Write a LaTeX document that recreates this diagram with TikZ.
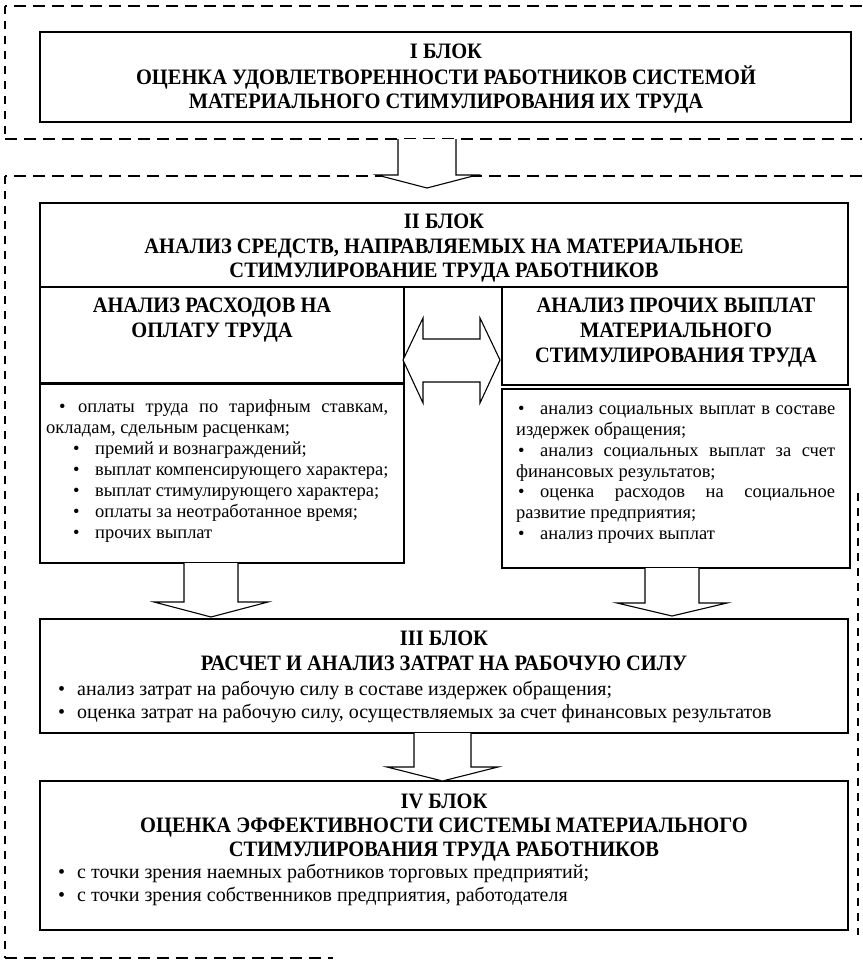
\documentclass[tikz,border=0pt]{standalone}
\usepackage{fontspec}
\setmainfont{Liberation Serif}
\newfontfamily\headfont[FakeStretch=0.93]{Liberation Serif}
\usetikzlibrary{fit}

\newcommand{\bulA}{\makebox[19pt][l]{\textbullet}}
\newcommand{\bulB}{\makebox[22pt][l]{\textbullet}}

\begin{document}
\begin{tikzpicture}
[x=1pt, y=-1pt,
  frameDecorate/.style={line width=2.2pt, dash pattern=on 12pt off 7pt},
  sideDecorate/.style={line width=2.2pt, dash pattern=on 8pt off 7pt},
  blockDecorate/.style={draw, line width=1.3pt, inner sep=0pt, fit={#1}},
  arrowDecorate/.style={line width=1.1pt, line join=miter},
  headDecorate/.style={anchor=base, inner sep=0pt, font=\headfont\bfseries\fontsize{22}{26}\selectfont},
  itemDecorate/.style={anchor=base west, inner sep=0pt, font=\fontsize{18.5}{21}\selectfont},
  pointDecorate/.style={anchor=base west, inner sep=0pt, font=\fontsize{20}{23}\selectfont}]
\useasboundingbox (0,0) rectangle (862,961);

%% dashed frames
\draw[frameDecorate] (862,6) -- (5,6);
\draw[sideDecorate] (5,6) -- (5,139);
\draw[frameDecorate] (5,139) -- (862,139);
\draw[frameDecorate] (862,176) -- (5,176);
\draw[sideDecorate] (5,176) -- (5,958);
\draw[frameDecorate] (5,958) -- (333,958);
\draw[sideDecorate] (858,493) -- (858,935);

%% blocks
\node[blockDecorate={(40,32) (851,122)}] (blockI) {};
\node[blockDecorate={(40,203) (848,287)}] (blockII) {};
\node[blockDecorate={(40,287) (404,383)}] (payHead) {};
\node[blockDecorate={(502,287) (848,385)}] (otherHead) {};
\node[blockDecorate={(40,383) (404,563)}] (payList) {};
\node[blockDecorate={(502,389) (850,568)}] (otherList) {};
\node[blockDecorate={(40,619) (848,733)}] (blockIII) {};
\node[blockDecorate={(40,781) (848,930)}] (blockIV) {};
\draw[line width=2.6pt] (payHead.south west) -- (payHead.south east);

%% block arrows
\foreach \cx/\ya/\yb/\yc/\sw/\hw in {
  427/139/175/188/29/50,
  211/563/602/617/27/57,
  672/568/603/616/27/55,
  442.5/733/767/781/28.5/55.5}
{
  \fill[white] (\cx-\sw,\ya) -- (\cx-\sw,\yb) -- (\cx-\hw,\yb) -- (\cx,\yc)
    -- (\cx+\hw,\yb) -- (\cx+\sw,\yb) -- (\cx+\sw,\ya) -- cycle;
  \draw[arrowDecorate] (\cx-\sw,\ya) -- (\cx-\sw,\yb) -- (\cx-\hw,\yb) -- (\cx,\yc)
    -- (\cx+\hw,\yb) -- (\cx+\sw,\yb) -- (\cx+\sw,\ya);
}
\draw[arrowDecorate, fill=white] (403,360) -- (423,318) -- (423,339) -- (480,339)
  -- (480,318) -- (500,360) -- (480,403) -- (480,382) -- (423,382) -- (423,403) -- cycle;

%% headings
\foreach \name/\x/\y/\txt in {
  tI1/446/58/{I БЛОК},
  tI2/446/84/{ОЦЕНКА УДОВЛЕТВОРЕННОСТИ РАБОТНИКОВ СИСТЕМОЙ},
  tI3/446/108/{МАТЕРИАЛЬНОГО СТИМУЛИРОВАНИЯ ИХ ТРУДА},
  tII1/444/228/{II БЛОК},
  tII2/444/253/{АНАЛИЗ СРЕДСТВ, НАПРАВЛЯЕМЫХ НА МАТЕРИАЛЬНОЕ},
  tII3/444/277/{СТИМУЛИРОВАНИЕ ТРУДА РАБОТНИКОВ},
  tPay1/212/312/{АНАЛИЗ РАСХОДОВ НА},
  tPay2/212/337/{ОПЛАТУ ТРУДА},
  tOth1/676/312/{АНАЛИЗ ПРОЧИХ ВЫПЛАТ},
  tOth2/676/337/{МАТЕРИАЛЬНОГО},
  tOth3/676/362/{СТИМУЛИРОВАНИЯ ТРУДА},
  tIII1/444/645/{III БЛОК},
  tIII2/444/670/{РАСЧЕТ И АНАЛИЗ ЗАТРАТ НА РАБОЧУЮ СИЛУ},
  tIV1/444/808/{IV БЛОК},
  tIV2/444/832/{ОЦЕНКА ЭФФЕКТИВНОСТИ СИСТЕМЫ МАТЕРИАЛЬНОГО},
  tIV3/444/856/{СТИМУЛИРОВАНИЯ ТРУДА РАБОТНИКОВ}}
{
  \node[headDecorate] (\name) at (\x,\y) {\txt};
}

%% list items
\foreach \name/\x/\y/\txt in {
  pay1/59/412/{\makebox[329pt][s]{\bulA оплаты труда по тарифным ставкам,}},
  pay2/46/433/{окладам, сдельным расценкам;},
  pay3/73/454/{\bulB премий и вознаграждений;},
  pay4/73/475/{\bulB выплат компенсирующего характера;},
  pay5/73/496/{\bulB выплат стимулирующего характера;},
  pay6/73/517/{\bulB оплаты за неотработанное время;},
  pay7/73/538/{\bulB прочих выплат},
  oth1/518/414/{\makebox[317pt][s]{\bulB анализ социальных выплат в составе}},
  oth2/516/435/{издержек обращения;},
  oth3/518/456/{\makebox[317pt][s]{\bulB анализ социальных выплат за счет}},
  oth4/516/477/{финансовых результатов;},
  oth5/518/497/{\makebox[317pt][s]{\bulB оценка расходов на социальное}},
  oth6/516/518/{развитие предприятия;},
  oth7/518/539/{\bulB анализ прочих выплат}}
{
  \node[itemDecorate] (\name) at (\x,\y) {\txt};
}
\foreach \name/\y/\txt in {
  lab1/695/{анализ затрат на рабочую силу в составе издержек обращения;},
  lab2/718/{оценка затрат на рабочую силу, осуществляемых за счет финансовых результатов},
  eff1/878/{с точки зрения наемных работников торговых предприятий;},
  eff2/901/{с точки зрения собственников предприятия, работодателя}}
{
  \node[pointDecorate] (\name) at (58,\y) {\bulA\txt};
}
\end{tikzpicture}
\end{document}
